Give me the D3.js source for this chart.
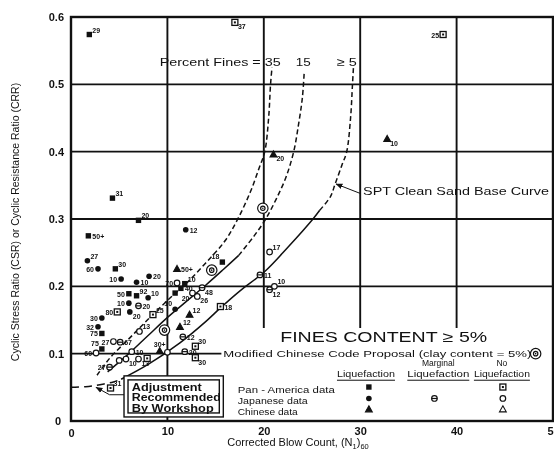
<!DOCTYPE html>
<html>
<head>
<meta charset="utf-8">
<script src="https://cdn.jsdelivr.net/npm/d3@7"></script>
<style>
body{margin:0;background:#fff}
svg{will-change:transform}
text{font-family:"Liberation Sans",Arial,sans-serif;fill:#111}
</style>
</head>
<body>
<script>
// axis ticks
var xTicks = [0, 10, 20, 30, 40, 50];
var yTicks = [0, 0.1, 0.2, 0.3, 0.4, 0.5, 0.6];
var yTickLabels = ["0", "0.1", "0.2", "0.3", "0.4", "0.5", "0.6"];

// curves (N1)60 , CRR
var curve35 = [[2.7,0.068],[4,0.093],[6,0.122],[8,0.151],[10,0.179],[12,0.205],[14,0.235],[16,0.268],[17.3,0.3],[18.6,0.34],[19.5,0.375],[20.1,0.4],[20.5,0.45],[20.7,0.5],[20.85,0.525]];
var curve15Solid = [[3.8,0.073],[6,0.1],[8,0.127],[10.1,0.155],[12,0.178],[14,0.202],[15.8,0.225],[17.4,0.246]];
var curve15Dash = [[17.4,0.246],[19,0.275],[20.2,0.3],[21.3,0.33],[22.3,0.362],[23.1,0.4],[23.6,0.44],[24,0.48],[24.2,0.52]];
var curve5Adj = [[0,0.05],[1.5,0.051],[3,0.054],[4.4,0.058],[5.2,0.062]];
var curve5Solid = [[5.2,0.062],[8,0.084],[11.3,0.116],[14,0.148],[15.5,0.168],[17.5,0.193],[20.1,0.222],[22.5,0.258],[25.1,0.3],[25.8,0.313]];
var curve5Dash = [[25.8,0.313],[26.9,0.333],[27.4,0.352],[28.1,0.38],[28.6,0.4],[29,0.45],[29.2,0.5],[29.3,0.525]];

// case histories: N, CRR, type, label
// pl/pn Pan-America liq/no, jl/jm/jn Japanese liq/marginal/no, cl/cn Chinese liq/no, mc modified chinese code
var points = [
  [1.9,0.574,"pl","29"],[17.0,0.592,"pn","37"],[38.6,0.574,"pn","25"],
  [32.8,0.419,"cl","10"],[21.0,0.396,"cl","20"],[19.9,0.316,"mc",""],
  [4.3,0.331,"pl","31"],[7.0,0.298,"pl","20"],[1.8,0.275,"pl","50+"],
  [11.9,0.284,"jl","12"],[1.7,0.238,"jl","27"],[2.8,0.226,"jl","60"],
  [4.6,0.226,"pl","30"],[5.2,0.211,"jl","10"],[6.8,0.206,"jl","10"],
  [8.1,0.215,"jl","20"],[11.0,0.226,"cl","50+"],[15.7,0.236,"pl","18"],
  [14.6,0.224,"mc",""],[11.0,0.205,"jn","70"],[11.8,0.204,"pl","10"],
  [11.4,0.197,"pl","40"],[10.8,0.19,"pl",""],[12.6,0.19,"jn","20"],
  [13.1,0.185,"jn","26"],[13.6,0.198,"jm","48"],[10.8,0.166,"jl","10"],
  [6.0,0.189,"pl","50"],[6.8,0.186,"pl","92"],[8.0,0.183,"jl","10"],
  [6.0,0.175,"jl","10"],[7.0,0.171,"jm","20"],[4.8,0.162,"pn","80"],
  [6.1,0.162,"jl","20"],[8.5,0.158,"pn","25"],[3.2,0.153,"jl","30"],
  [2.8,0.14,"jl","32"],[3.2,0.13,"pl","75"],[4.4,0.118,"jn","27"],
  [3.2,0.107,"pl","75"],[2.6,0.101,"jn","60"],[5.1,0.117,"jm","67"],
  [7.1,0.133,"jn","13"],[9.7,0.135,"mc",""],[4.0,0.08,"jm","27"],
  [5.0,0.09,"jn",""],[5.7,0.092,"jn","10"],[6.3,0.103,"jn","10"],
  [7.0,0.092,"jn","13"],[7.9,0.093,"pn",""],[9.2,0.104,"cl","30+"],
  [10.0,0.102,"jn",""],[11.8,0.103,"jm","20"],[11.6,0.125,"jm","12"],
  [12.9,0.111,"pn","30"],[12.9,0.094,"pn","30"],[12.3,0.158,"cl","12"],
  [11.3,0.14,"cl","12"],[15.5,0.17,"pn","18"],[20.6,0.251,"jn","17"],
  [19.6,0.217,"jm","11"],[20.6,0.195,"jm","12"],[21.1,0.2,"jn","10"],
  [4.1,0.049,"pn","31"]
];
var labelPos = [
  "ur","rd","l",
  "rd","rd","",
  "ur","ur","r",
  "r","ur","l",
  "ur","l","r",
  "r","r","ul",
  "","l","ur",
  "r","","ld",
  "rd","rd","ul",
  "l","ur","ur",
  "l","r","l",
  "rd","ur","l",
  "l","l","l",
  "ul","l","r",
  "ur","","l",
  "","rd","r",
  "rd","","u",
  "","r","r",
  "ur","rd","ur",
  "ur","r","ur",
  "r","rd","ur",
  "ur"
];

var legendRows = ["Pan - America data", "Japanese data", "Chinese data"];
var legendHead1 = ["", "Marginal", "No"];
var legendHead2 = ["Liquefaction", "Liquefaction", "Liquefaction"];
var legendMarks = [["pl", "", "pn"], ["jl", "jm", "jn"], ["cl", "", "cn"]];

var W = 554, H = 454;
var svg = d3.select("body").append("svg").attr("width", W).attr("height", H);
var x = d3.scaleLinear().domain([0, 50]).range([71, 553]);
var y = d3.scaleLinear().domain([0, 0.6]).range([421, 17]);

// grid
var grid = svg.append("g").attr("stroke", "#111").attr("stroke-width", 1.9);
[10, 20, 30, 40].forEach(function(v){
  grid.append("line").attr("x1", x(v)).attr("x2", x(v))
    .attr("y1", y(0.6)).attr("y2", v == 10 ? y(0) : y(0.138));
});
[0.1, 0.2, 0.3, 0.4, 0.5].forEach(function(v){
  grid.append("line").attr("y1", y(v)).attr("y2", y(v))
    .attr("x1", x(0)).attr("x2", v == 0.1 ? x(15.6) : x(50));
});

// axes
var xAxis = d3.axisBottom(x).tickValues(xTicks).tickSize(0).tickPadding(6);
var yAxis = d3.axisLeft(y).tickValues(yTicks).tickSize(0).tickPadding(7)
  .tickFormat(function(d, i){ return yTickLabels[i]; });
var gx = svg.append("g").attr("transform", "translate(0," + y(0) + ")").call(xAxis);
var gy = svg.append("g").attr("transform", "translate(" + x(0) + ",0)").call(yAxis);
[gx, gy].forEach(function(g){
  g.select(".domain").remove();
  g.selectAll("text").attr("font-size", 11).attr("font-weight", "bold")
    .attr("font-family", "Liberation Sans, Arial, sans-serif").attr("fill", "#111");
});
gy.selectAll(".tick").filter(function(d){ return d == 0; }).select("text").attr("dx", -3);
gx.selectAll(".tick").filter(function(d){ return d == 0; }).select("text").attr("dy", "0.9em");

svg.append("rect").attr("x", x(0)).attr("y", y(0.6))
  .attr("width", x(50) - x(0)).attr("height", y(0) - y(0.6))
  .attr("fill", "none").attr("stroke", "#111").attr("stroke-width", 2.4);

// curves
var line = d3.line().x(function(d){ return x(d[0]); }).y(function(d){ return y(d[1]); })
  .curve(d3.curveCatmullRom);
function drawCurve(data, dash){
  svg.append("path").datum(data).attr("d", line).attr("fill", "none")
    .attr("stroke", "#111").attr("stroke-width", 1.5)
    .attr("stroke-dasharray", dash || null);
}
drawCurve(curve35, "5,3");
drawCurve(curve15Solid);
drawCurve(curve15Dash, "5,3");
drawCurve(curve5Adj, "8,5");
drawCurve(curve5Solid);
drawCurve(curve5Dash, "5,3");

// markers
function mark(g, t, cx, cy){
  if (t == "pl") g.append("rect").attr("x", cx-2.7).attr("y", cy-2.7).attr("width", 5.4).attr("height", 5.4).attr("fill", "#111");
  if (t == "pn") {
    g.append("rect").attr("x", cx-3).attr("y", cy-3).attr("width", 6).attr("height", 6).attr("fill", "#fff").attr("stroke", "#111").attr("stroke-width", 1.3);
    g.append("rect").attr("x", cx-1).attr("y", cy-1).attr("width", 2).attr("height", 2).attr("fill", "#111");
  }
  if (t == "jl") g.append("circle").attr("cx", cx).attr("cy", cy).attr("r", 2.8).attr("fill", "#111");
  if (t == "jn") g.append("circle").attr("cx", cx).attr("cy", cy).attr("r", 2.8).attr("fill", "#fff").attr("stroke", "#111").attr("stroke-width", 1.2);
  if (t == "jm") {
    g.append("circle").attr("cx", cx).attr("cy", cy).attr("r", 2.8).attr("fill", "#fff").attr("stroke", "#111").attr("stroke-width", 1.2);
    g.append("line").attr("x1", cx-2.8).attr("x2", cx+2.8).attr("y1", cy).attr("y2", cy).attr("stroke", "#111").attr("stroke-width", 1.2);
  }
  if (t == "cl" || t == "cn") g.append("path")
    .attr("d", "M" + cx + "," + (cy-3.4) + "L" + (cx+3.4) + "," + (cy+2.6) + "L" + (cx-3.4) + "," + (cy+2.6) + "Z")
    .attr("fill", t == "cl" ? "#111" : "#fff").attr("stroke", "#111").attr("stroke-width", 1.1);
  if (t == "mc") {
    g.append("circle").attr("cx", cx).attr("cy", cy).attr("r", 5.2).attr("fill", "#fff").attr("stroke", "#111").attr("stroke-width", 1.2);
    g.append("circle").attr("cx", cx).attr("cy", cy).attr("r", 2.2).attr("fill", "none").attr("stroke", "#111").attr("stroke-width", 1.2);
    g.append("circle").attr("cx", cx).attr("cy", cy).attr("r", 0.8).attr("fill", "#111");
  }
}

var offs = {r:[4,3,"start"], ur:[3,-2,"start"], rd:[3,7,"start"], l:[-4,3,"end"],
            ul:[-3,-3,"end"], ld:[-3,8,"end"], u:[0,-4,"middle"], "":[0,0,"start"]};
var pg = svg.append("g");
points.forEach(function(p, i){
  var cx = x(p[0]), cy = y(p[1]);
  mark(pg, p[2], cx, cy);
  if (p[3]) {
    var o = offs[labelPos[i]];
    pg.append("text").attr("x", cx + o[0]).attr("y", cy + o[1]).attr("text-anchor", o[2])
      .attr("font-size", 7).attr("font-weight", "bold").text(p[3]);
  }
});

// annotations
function label(txt, xv, yv, size, len, anchor){
  var t = svg.append("text").attr("x", x(xv)).attr("y", y(yv)).attr("font-size", size)
    .attr("text-anchor", anchor || "start").text(txt);
  if (len) t.attr("textLength", len).attr("lengthAdjust", "spacingAndGlyphs");
  return t;
}
label("Percent Fines = 35", 9.2, 0.527, 11.5, 121);
label("15", 24.1, 0.527, 11.5, 15, "middle");
label("\u2265 5", 28.6, 0.527, 11.5, 20, "middle");
label("SPT Clean Sand Base Curve", 30.3, 0.335, 10.5, 186);
label("FINES CONTENT \u2265 5%", 21.7, 0.118, 14.5, 207);
label("Modified Chinese Code Proposal (clay content = 5%)", 15.8, 0.095, 9.5, 308);
mark(svg, "mc", x(48.2), y(0.1));

var arrowLine = d3.line().x(function(d){ return x(d[0]); }).y(function(d){ return y(d[1]); });
svg.append("defs").append("marker").attr("id", "ah").attr("viewBox", "0 0 10 10")
  .attr("refX", 9).attr("refY", 5).attr("markerWidth", 7).attr("markerHeight", 7)
  .attr("orient", "auto").append("path").attr("d", "M0,1L10,5L0,9Z").attr("fill", "#111");
svg.append("path").attr("d", arrowLine([[30.0, 0.338], [27.5, 0.352]]))
  .attr("stroke", "#111").attr("stroke-width", 1).attr("fill", "none").attr("marker-end", "url(#ah)");

// workshop box
var bx0 = 5.5, bx1 = 15.8, by0 = 0.067, by1 = 0.006;
svg.append("rect").attr("x", x(bx0)).attr("y", y(by0)).attr("width", x(bx1) - x(bx0))
  .attr("height", y(by1) - y(by0)).attr("fill", "#fff").attr("stroke", "#111").attr("stroke-width", 1.4);
svg.append("rect").attr("x", x(bx0) + 4).attr("y", y(by0) + 4).attr("width", x(bx1) - x(bx0) - 8)
  .attr("height", y(by1) - y(by0) - 8).attr("fill", "none").attr("stroke", "#111").attr("stroke-width", 1.4);
label("Adjustment", 6.3, 0.045, 11.5, 70).attr("font-weight", "bold");
label("Recommended", 6.3, 0.029, 11.5, 89).attr("font-weight", "bold");
label("By Workshop", 6.3, 0.013, 11.5, 82).attr("font-weight", "bold");
svg.append("path").attr("d", arrowLine([[5.5, 0.039], [4.0, 0.039], [2.6, 0.05]]))
  .attr("stroke", "#111").attr("stroke-width", 1).attr("fill", "none").attr("marker-end", "url(#ah)");

// legend table
var lx = [30.6, 38.1, 44.7];
var lw = [58, 62, 56];
var lyHead = [0.081, 0.065];
var lyRow = [0.046, 0.029, 0.013];
lx.forEach(function(cxv, j){
  label(legendHead1[j], cxv, lyHead[0], 8.5, null, "middle");
  label(legendHead2[j], cxv, lyHead[1], 8.5, lw[j], "middle");
  svg.append("line").attr("x1", x(cxv) - lw[j] / 2).attr("x2", x(cxv) + lw[j] / 2)
    .attr("y1", y(lyHead[1]) + 3).attr("y2", y(lyHead[1]) + 3).attr("stroke", "#111").attr("stroke-width", 1);
});
var mx = [30.9, 37.7, 44.8];
legendRows.forEach(function(r, i){
  label(r, 17.3, lyRow[i] - 0.004, 8.5, i == 0 ? 97 : (i == 1 ? 70 : 60));
  legendMarks[i].forEach(function(t, j){ if (t) mark(svg, t, x(mx[j]), y(lyRow[i]) - 3); });
});

// axis titles
var xt = svg.append("text").attr("x", 298).attr("y", 446).attr("text-anchor", "middle").attr("font-size", 11);
xt.append("tspan").text("Corrected Blow Count, (N");
xt.append("tspan").attr("font-size", 7.5).attr("dy", 3).text("1");
xt.append("tspan").attr("dy", -3).text(")");
xt.append("tspan").attr("font-size", 7.5).attr("dy", 3).text("60");
svg.append("text").attr("transform", "translate(19," + 222 + ") rotate(-90)")
  .attr("text-anchor", "middle").attr("font-size", 10.5)
  .text("Cyclic Stress Ratio (CSR) or Cyclic Resistance Ratio (CRR)");
</script>
</body>
</html>
